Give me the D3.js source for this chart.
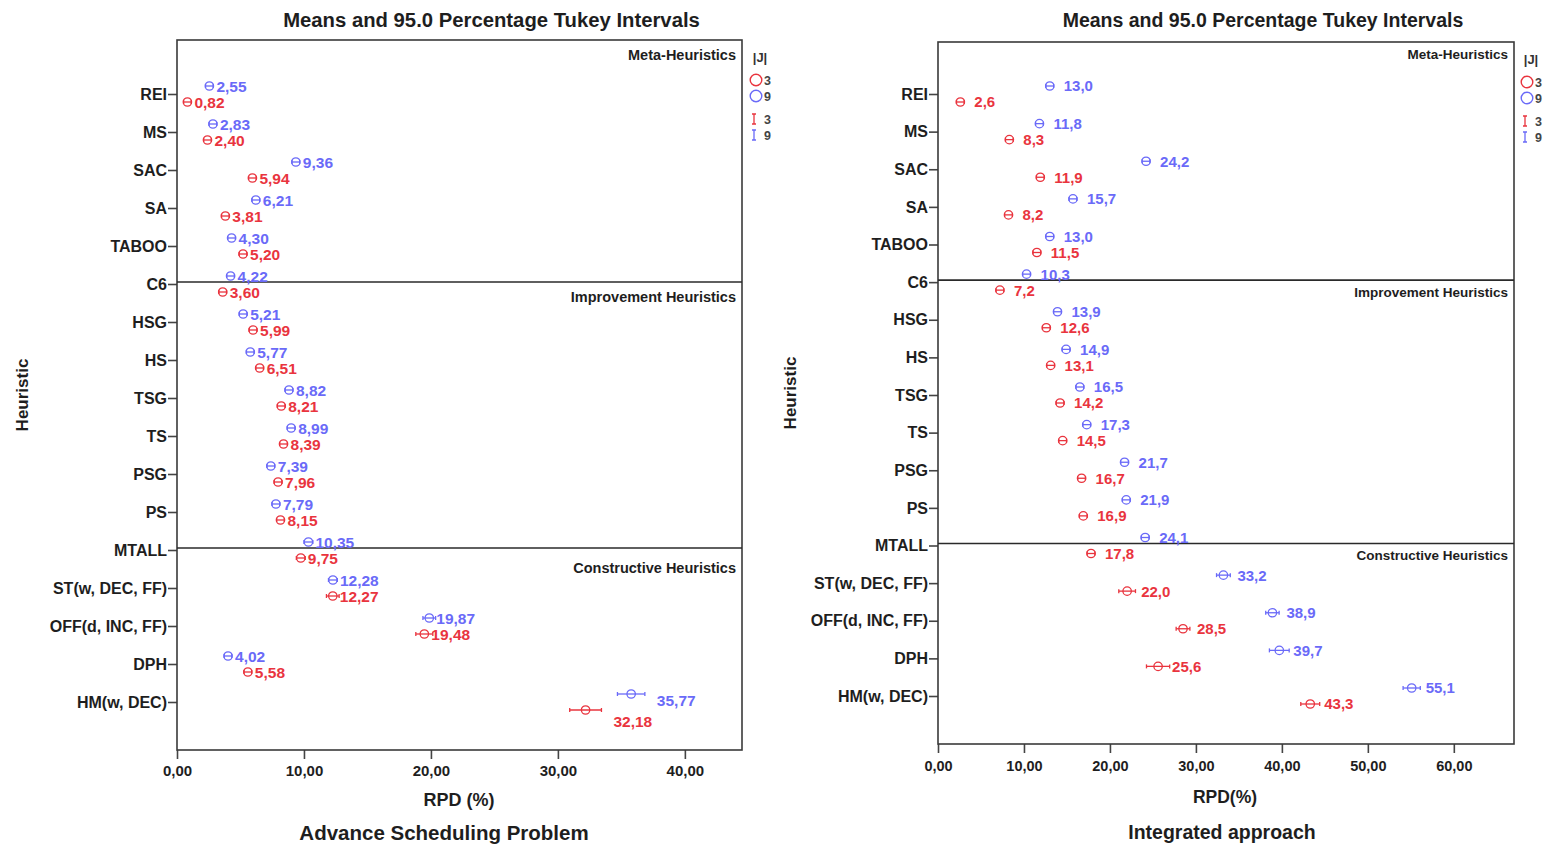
<!DOCTYPE html>
<html>
<head>
<meta charset="utf-8">
<script src="https://cdn.jsdelivr.net/npm/d3@7"></script>
<style>
  html, body { margin: 0; padding: 0; background: #fff; }
  svg { display: block; font-family: "Liberation Sans", Arial, sans-serif; }
</style>
</head>
<body>
<svg id="chart" width="1547" height="846"></svg>
<script>
// Heuristics, top to bottom
const heuristics = ["REI", "MS", "SAC", "SA", "TABOO", "C6", "HSG", "HS", "TSG", "TS",
  "PSG", "PS", "MTALL", "ST(w, DEC, FF)", "OFF(d, INC, FF)", "DPH", "HM(w, DEC)"];

// Group boundaries (the group starts at this heuristic)
const groups = [
  { name: "Meta-Heuristics", start: "REI" },
  { name: "Improvement Heuristics", start: "C6" },
  { name: "Constructive Heuristics", start: "MTALL" }
];

// |J| levels
const levels = ["3", "9"];

// Advance scheduling problem: mean RPD (%) and Tukey half-interval
const aspMeanJ3 = [0.82, 2.40, 5.94, 3.81, 5.20, 3.60, 5.99, 6.51, 8.21, 8.39, 7.96, 8.15, 9.75, 12.27, 19.48, 5.58, 32.18];
const aspMeanJ9 = [2.55, 2.83, 9.36, 6.21, 4.30, 4.22, 5.21, 5.77, 8.82, 8.99, 7.39, 7.79, 10.35, 12.28, 19.87, 4.02, 35.77];
const aspHalfJ3 = [0.3, 0.3, 0.3, 0.3, 0.3, 0.3, 0.3, 0.3, 0.3, 0.3, 0.3, 0.3, 0.35, 0.5, 0.67, 0.3, 1.25];
const aspHalfJ9 = [0.3, 0.3, 0.3, 0.3, 0.3, 0.3, 0.3, 0.3, 0.3, 0.3, 0.3, 0.3, 0.35, 0.35, 0.5, 0.3, 1.08];
const aspTicks = [0, 10, 20, 30, 40];

// Integrated approach: mean RPD (%) and Tukey half-interval
const intMeanJ3 = [2.6, 8.3, 11.9, 8.2, 11.5, 7.2, 12.6, 13.1, 14.2, 14.5, 16.7, 16.9, 17.8, 22.0, 28.5, 25.6, 43.3];
const intMeanJ9 = [13.0, 11.8, 24.2, 15.7, 13.0, 10.3, 13.9, 14.9, 16.5, 17.3, 21.7, 21.9, 24.1, 33.2, 38.9, 39.7, 55.1];
const intHalfJ3 = [0.45, 0.45, 0.45, 0.45, 0.45, 0.45, 0.45, 0.45, 0.45, 0.45, 0.45, 0.45, 0.45, 0.97, 0.8, 1.35, 1.1];
const intHalfJ9 = [0.45, 0.45, 0.45, 0.45, 0.45, 0.45, 0.45, 0.45, 0.45, 0.45, 0.45, 0.45, 0.45, 0.8, 0.78, 1.15, 1.0];
const intTicks = [0, 10, 20, 30, 40, 50, 60];

const colors = { "3": "#e9343e", "9": "#6a6af8" };
const ink = "#1e1e1e";

const locale = d3.formatLocale({ decimal: ",", thousands: ".", grouping: [3], currency: ["", ""] });

const svg = d3.select("#chart");

function drawPanel(p) {
  const g = svg.append("g");
  const x = d3.scaleLinear().domain(p.xDomain).range([p.left, p.right]);
  const y = d3.scalePoint().domain(heuristics).range(p.catRange);
  const fmtTick = locale.format(".2f");
  const fmtVal = locale.format(p.valueFormat);

  // title
  g.append("text")
    .attr("x", (p.left + p.right) / 2 - p.titleShift)
    .attr("y", 20)
    .attr("dy", "0.35em")
    .attr("text-anchor", "middle")
    .attr("font-size", p.titleSize)
    .attr("font-weight", "bold")
    .attr("fill", ink)
    .text("Means and 95.0 Percentage Tukey Intervals");

  // x axis (ticks hang below the frame)
  const xAxis = d3.axisBottom(x).tickValues(p.ticks).tickFormat(fmtTick).tickSize(9).tickSizeOuter(0);
  const xg = g.append("g").attr("transform", `translate(0,${p.bottom})`).call(xAxis);
  xg.select(".domain").remove();
  xg.selectAll(".tick line").attr("stroke", "#444").attr("stroke-width", 1.6);
  xg.selectAll(".tick text")
    .attr("font-size", p.tickSize).attr("font-weight", "bold").attr("fill", ink)
    .attr("font-family", "'Liberation Sans', Arial, sans-serif")
    .attr("y", p.tickLabelY - p.bottom).attr("dy", "0.35em");

  // y axis with heuristic names
  const yAxis = d3.axisLeft(y).tickSize(9).tickPadding(1).tickSizeOuter(0);
  const yg = g.append("g").attr("transform", `translate(${p.left},0)`).call(yAxis);
  yg.select(".domain").remove();
  yg.selectAll(".tick line").attr("stroke", "#444").attr("stroke-width", 1.6);
  yg.selectAll(".tick text")
    .attr("font-size", 16).attr("font-weight", "bold").attr("fill", ink)
    .attr("font-family", "'Liberation Sans', Arial, sans-serif");

  // frame
  g.append("rect")
    .attr("x", p.left).attr("y", p.top)
    .attr("width", p.right - p.left).attr("height", p.bottom - p.top)
    .attr("fill", "none").attr("stroke", "#3a3a3a").attr("stroke-width", 1.6);

  // group separators and group names
  groups.forEach((grp, i) => {
    const lineY = i === 0 ? p.top : y(grp.start) - 2;
    if (i > 0) {
      g.append("line")
        .attr("x1", p.left).attr("x2", p.right)
        .attr("y1", lineY).attr("y2", lineY)
        .attr("stroke", "#2a2a2a").attr("stroke-width", 1.6);
    }
    g.append("text")
      .attr("x", p.right - 6)
      .attr("y", lineY + p.groupLabelGap[i])
      .attr("dy", "0.35em")
      .attr("text-anchor", "end")
      .attr("font-size", p.groupSize)
      .attr("font-weight", "bold")
      .attr("fill", ink)
      .text(grp.name);
  });

  // interval marks
  const series = [
    { level: "3", mean: p.meanJ3, half: p.halfJ3, dy: 8 },
    { level: "9", mean: p.meanJ9, half: p.halfJ9, dy: -8 }
  ];
  series.forEach(s => {
    const col = colors[s.level];
    const rows = heuristics.map((h, i) => ({ h, m: s.mean[i], e: s.half[i] }));
    const mg = g.append("g");
    const cy = d => y(d.h) + s.dy;
    mg.selectAll("line.ci").data(rows).join("line")
      .attr("x1", d => x(d.m - d.e)).attr("x2", d => x(d.m + d.e))
      .attr("y1", cy).attr("y2", cy)
      .attr("stroke", col).attr("stroke-width", 1.3);
    mg.selectAll("line.capL").data(rows).join("line")
      .attr("x1", d => x(d.m - d.e)).attr("x2", d => x(d.m - d.e))
      .attr("y1", d => cy(d) - 2).attr("y2", d => cy(d) + 2)
      .attr("stroke", col).attr("stroke-width", 1.3);
    mg.selectAll("line.capR").data(rows).join("line")
      .attr("x1", d => x(d.m + d.e)).attr("x2", d => x(d.m + d.e))
      .attr("y1", d => cy(d) - 2).attr("y2", d => cy(d) + 2)
      .attr("stroke", col).attr("stroke-width", 1.3);
    mg.selectAll("circle").data(rows).join("circle")
      .attr("cx", d => x(d.m)).attr("cy", cy).attr("r", 4.2)
      .attr("fill", "none").attr("stroke", col).attr("stroke-width", 1.3);
    // value labels; wide intervals push the label past the whisker and down
    mg.selectAll("text").data(rows).join("text")
      .attr("x", d => {
        if (p.wideShift && d.e > 1) return x(d.m + d.e) + 12;
        return x(d.m) + p.labelGap;
      })
      .attr("y", d => cy(d) + (p.wideShift && d.e > 1 ? (s.level === "3" ? 11 : 6) : 0))
      .attr("dy", "0.36em")
      .attr("font-size", p.valueSize)
      .attr("font-weight", "bold")
      .attr("fill", col)
      .text(d => fmtVal(d.m));
  });

  // legend for |J|
  const lg = g.append("g").attr("transform", `translate(${p.right + p.legendDx},0)`);
  lg.append("text").attr("x", 6).attr("y", p.top + 17).attr("dy", "0.35em")
    .attr("text-anchor", "middle").attr("font-size", 13).attr("font-weight", "bold").attr("fill", "#333").text("|J|");
  levels.forEach((lv, i) => {
    const cyc = p.top + 40 + i * 16;
    lg.append("circle").attr("cx", 2).attr("cy", cyc).attr("r", 5.8)
      .attr("fill", "none").attr("stroke", colors[lv]).attr("stroke-width", 1.4);
    lg.append("text").attr("x", 10).attr("y", cyc).attr("dy", "0.36em")
      .attr("font-size", 12.5).attr("font-weight", "bold").attr("fill", "#444").text(lv);
    const iy = p.top + 79 + i * 16;
    lg.append("path")
      .attr("d", `M-2,${iy - 5}H2M0,${iy - 5}V${iy + 5}M-2,${iy + 5}H2`)
      .attr("fill", "none").attr("stroke", colors[lv]).attr("stroke-width", 1.3);
    lg.append("text").attr("x", 10).attr("y", iy).attr("dy", "0.36em")
      .attr("font-size", 12.5).attr("font-weight", "bold").attr("fill", "#444").text(lv);
  });

  // axis titles
  g.append("text")
    .attr("transform", `translate(${p.yTitleX},${(p.top + p.bottom) / 2}) rotate(-90)`)
    .attr("dy", "0.35em").attr("text-anchor", "middle")
    .attr("font-size", 17).attr("font-weight", "bold").attr("fill", ink)
    .text("Heuristic");
  g.append("text")
    .attr("x", p.xTitleX).attr("y", p.xTitleY).attr("dy", "0.35em")
    .attr("text-anchor", "middle").attr("font-size", p.xTitleSize).attr("font-weight", "bold").attr("fill", ink)
    .text(p.xTitle);
  g.append("text")
    .attr("x", p.subX).attr("y", p.subY).attr("dy", "0.35em")
    .attr("text-anchor", "middle").attr("font-size", p.subSize).attr("font-weight", "bold").attr("fill", ink)
    .text(p.subtitle);
}

drawPanel({
  left: 177, right: 742, top: 40, bottom: 750,
  catRange: [94, 702],
  xDomain: [0, 44.5], ticks: aspTicks,
  meanJ3: aspMeanJ3, meanJ9: aspMeanJ9, halfJ3: aspHalfJ3, halfJ9: aspHalfJ9,
  valueFormat: ".2f", labelGap: 7, wideShift: true, valueSize: 15.5,
  titleSize: 20.3, titleShift: -32, tickSize: 15, tickLabelY: 771,
  groupLabelGap: [15, 15, 20], groupSize: 14.5,
  legendDx: 12, yTitleX: 22,
  xTitle: "RPD (%)", xTitleX: 459, xTitleY: 800, xTitleSize: 18,
  subtitle: "Advance Scheduling Problem", subX: 444, subY: 833, subSize: 20.5
});

drawPanel({
  left: 938, right: 1514, top: 42, bottom: 744,
  catRange: [94, 696],
  xDomain: [0, 67], ticks: intTicks,
  meanJ3: intMeanJ3, meanJ9: intMeanJ9, halfJ3: intHalfJ3, halfJ9: intHalfJ9,
  valueFormat: ".1f", labelGap: 14, wideShift: false, valueSize: 15,
  titleSize: 19.5, titleShift: -37, tickSize: 14.5, tickLabelY: 766,
  groupLabelGap: [12, 12, 12], groupSize: 13.5,
  legendDx: 11, yTitleX: 790,
  xTitle: "RPD(%)", xTitleX: 1225, xTitleY: 797, xTitleSize: 17.5,
  subtitle: "Integrated approach", subX: 1222, subY: 832, subSize: 19.5
});
</script>
</body>
</html>
